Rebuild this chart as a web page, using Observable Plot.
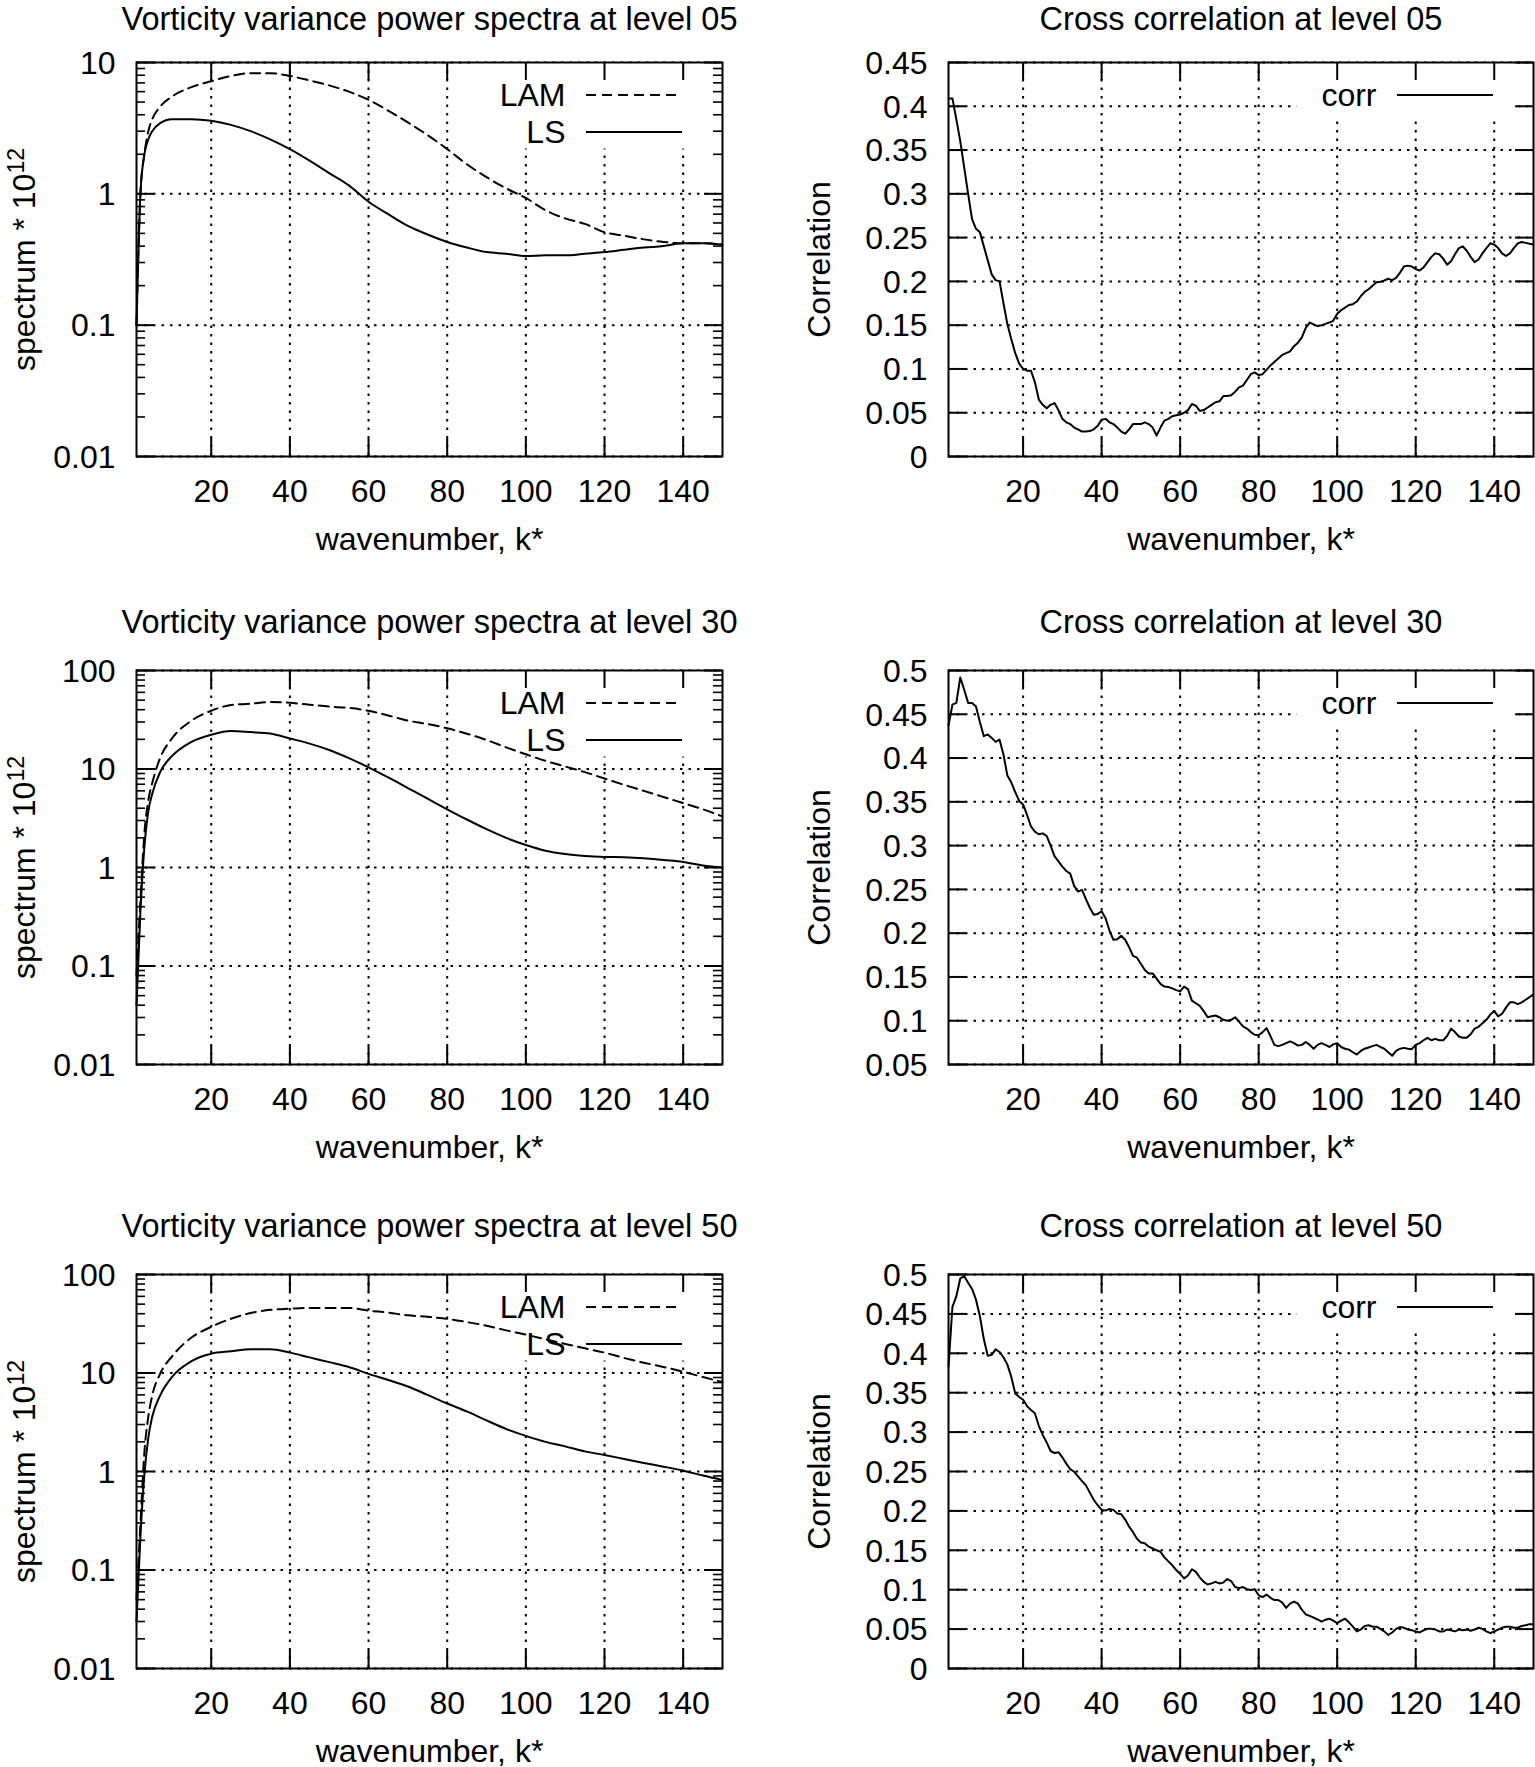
<!DOCTYPE html>
<html>
<head>
<meta charset="utf-8">
<script src="https://cdn.jsdelivr.net/npm/d3@7"></script>
<script src="https://cdn.jsdelivr.net/npm/@observablehq/plot@0.6"></script>
<style>
  body { margin: 0; background: #fff; }
  #root { position: relative; width: 1535px; height: 1767px; overflow: hidden; background: #fff; }
</style>
</head>
<body>
<div id="root"></div>
<script>
// ---------- data ----------
const xTicks = [20, 40, 60, 80, 100, 120, 140];
const specTicks05 = [0.01, 0.1, 1, 10];
const specTicks = [0.01, 0.1, 1, 10, 100];
const corrTicks05 = [0, 0.05, 0.1, 0.15, 0.2, 0.25, 0.3, 0.35, 0.4, 0.45];
const corrTicks30 = [0.05, 0.1, 0.15, 0.2, 0.25, 0.3, 0.35, 0.4, 0.45, 0.5];
const corrTicks50 = [0, 0.05, 0.1, 0.15, 0.2, 0.25, 0.3, 0.35, 0.4, 0.45, 0.5];

const specK = [1, 2, 3, 4, 5, 7, 10, 15, 20, 25, 30, 35, 40, 45, 50, 55, 60, 65, 70, 75, 80, 85, 90, 95, 100, 105, 110, 115, 120, 125, 130, 135, 140, 145, 150];

const lam05 = [0.1, 1.0, 2.0, 3.0, 3.7, 4.6, 5.5, 6.5, 7.2, 7.9, 8.3, 8.3, 7.9, 7.3, 6.7, 6.0, 5.2, 4.3, 3.5, 2.8, 2.19, 1.68, 1.34, 1.1, 0.93, 0.75, 0.65, 0.59, 0.51, 0.48, 0.45, 0.43, 0.42, 0.42, 0.41];
const ls05  = [0.1, 1.0, 2.0, 2.6, 3.0, 3.45, 3.7, 3.7, 3.6, 3.35, 3.0, 2.6, 2.19, 1.79, 1.44, 1.16, 0.87, 0.70, 0.57, 0.49, 0.43, 0.39, 0.36, 0.35, 0.336, 0.34, 0.34, 0.35, 0.36, 0.375, 0.39, 0.40, 0.42, 0.42, 0.41];

const lam30 = [0.08, 0.46, 2.2, 4.8, 7.2, 12.9, 20.4, 31, 39, 44.6, 46, 48, 47, 45, 43, 41.7, 39, 35, 31, 28.6, 25.9, 22.8, 19.7, 16.6, 14.1, 12.1, 10.6, 9.3, 8.0, 6.9, 6.0, 5.2, 4.5, 3.9, 3.3];
const ls30  = [0.04, 0.36, 1.6, 3.7, 5.6, 9.3, 13.5, 18.9, 22.3, 24.3, 23.7, 22.9, 20.4, 18.1, 15.6, 12.9, 10.4, 8.2, 6.4, 5.0, 3.9, 3.07, 2.45, 2.0, 1.69, 1.48, 1.37, 1.31, 1.28, 1.27, 1.24, 1.19, 1.14, 1.05, 1.0];

const lam50 = [0.05, 0.29, 1.55, 3.6, 5.9, 9.8, 14.7, 22.9, 29.4, 35.5, 40.6, 43.8, 44.9, 45.7, 45.7, 45.7, 43, 41, 38.5, 37.2, 35.5, 32.9, 30.2, 27.1, 24.5, 22, 19.7, 17.8, 16.1, 14.2, 12.7, 11.5, 10.3, 9.1, 8.1];
const ls50  = [0.03, 0.22, 0.93, 2.2, 3.6, 5.9, 9.1, 13.2, 15.7, 16.6, 17.4, 17.4, 16.1, 14.4, 12.9, 11.5, 9.8, 8.5, 7.3, 6.0, 4.9, 4.07, 3.3, 2.7, 2.3, 2.0, 1.8, 1.6, 1.47, 1.34, 1.22, 1.12, 1.02, 0.91, 0.82];

// correlation, one value per wavenumber k = 1..150
const corr05 = [
  0.409,0.409,0.385,0.36,0.33,0.30,0.271,0.26,0.256,0.24,
  0.224,0.208,0.2015,0.2,0.175,0.151,0.134,0.118,0.106,0.10,
  0.098,0.098,0.085,0.065,0.059,0.055,0.059,0.061,0.053,0.043,
  0.039,0.037,0.033,0.031,0.0285,0.0285,0.029,0.031,0.035,0.042,
  0.043,0.039,0.037,0.033,0.0285,0.026,0.031,0.037,0.037,0.037,
  0.039,0.037,0.033,0.024,0.033,0.041,0.043,0.046,0.047,0.048,
  0.05,0.053,0.06,0.058,0.052,0.053,0.056,0.059,0.062,0.063,
  0.069,0.069,0.07,0.074,0.079,0.081,0.0875,0.094,0.096,0.093,
  0.094,0.099,0.104,0.108,0.112,0.116,0.118,0.12,0.126,0.13,
  0.136,0.147,0.153,0.151,0.149,0.15,0.1515,0.153,0.155,0.163,
  0.167,0.17,0.173,0.174,0.177,0.183,0.188,0.191,0.195,0.199,
  0.1995,0.201,0.203,0.2015,0.204,0.21,0.217,0.218,0.217,0.214,
  0.2125,0.216,0.222,0.228,0.232,0.231,0.226,0.219,0.223,0.231,
  0.238,0.24,0.235,0.228,0.222,0.225,0.232,0.238,0.2435,0.242,
  0.238,0.232,0.229,0.232,0.238,0.2435,0.245,0.244,0.243,0.242
];
const corr30 = [
  0.437,0.461,0.463,0.492,0.478,0.463,0.463,0.459,0.441,0.425,
  0.427,0.423,0.4185,0.421,0.404,0.38,0.372,0.361,0.351,0.347,
  0.335,0.322,0.316,0.313,0.314,0.311,0.3,0.288,0.282,0.276,
  0.271,0.268,0.254,0.2475,0.2495,0.239,0.229,0.221,0.222,0.225,
  0.217,0.203,0.1925,0.193,0.197,0.1925,0.184,0.174,0.172,0.165,
  0.158,0.154,0.154,0.148,0.142,0.139,0.1385,0.137,0.135,0.1335,
  0.139,0.136,0.123,0.12,0.117,0.111,0.104,0.105,0.106,0.104,
  0.101,0.1,0.101,0.104,0.099,0.0935,0.091,0.087,0.084,0.0834,
  0.087,0.0915,0.0825,0.0724,0.071,0.0724,0.0744,0.0765,0.0744,0.0716,
  0.0724,0.0757,0.0724,0.068,0.0724,0.0744,0.0724,0.07,0.073,0.0744,
  0.07,0.068,0.067,0.064,0.0614,0.0655,0.068,0.0695,0.071,0.0724,
  0.07,0.068,0.064,0.06,0.0655,0.068,0.069,0.068,0.0675,0.0724,
  0.0744,0.0777,0.0805,0.0777,0.0793,0.0777,0.0777,0.0825,0.091,0.087,
  0.082,0.0805,0.0805,0.0846,0.091,0.093,0.097,0.101,0.107,0.111,
  0.105,0.108,0.115,0.121,0.121,0.119,0.121,0.124,0.127,0.13
];
const corr50 = [
  0.383,0.459,0.4725,0.495,0.4977,0.4895,0.4817,0.468,0.447,0.4177,
  0.397,0.398,0.405,0.4017,0.395,0.3856,0.37,0.349,0.3445,0.341,
  0.333,0.328,0.324,0.308,0.2964,0.287,0.276,0.2735,0.2745,0.268,
  0.26,0.253,0.2497,0.2438,0.2379,0.2324,0.2232,0.214,0.2072,0.2013,
  0.2004,0.2026,0.2013,0.1967,0.1958,0.189,0.18,0.173,0.1647,0.16,
  0.159,0.1546,0.1523,0.15,0.148,0.141,0.136,0.131,0.125,0.12,
  0.1144,0.118,0.126,0.1226,0.1157,0.11,0.1066,0.108,0.11,0.108,
  0.109,0.1135,0.111,0.1034,0.102,0.1034,0.1006,0.0997,0.1006,0.0929,
  0.0906,0.0938,0.0897,0.0869,0.0869,0.0837,0.0769,0.0823,0.085,0.0823,
  0.0746,0.0686,0.0668,0.0645,0.0622,0.0595,0.0618,0.0631,0.0608,0.0576,
  0.0608,0.0631,0.0586,0.0531,0.0471,0.0494,0.054,0.0549,0.0531,0.0531,
  0.0503,0.0471,0.0425,0.0457,0.0503,0.0526,0.0517,0.0494,0.0485,0.0471,
  0.0457,0.0485,0.0503,0.0503,0.0494,0.0471,0.0471,0.0494,0.0485,0.0471,
  0.0494,0.0485,0.0494,0.048,0.0494,0.0517,0.0503,0.0471,0.0448,0.0471,
  0.0494,0.0517,0.0531,0.0531,0.0517,0.0517,0.054,0.0549,0.0563,0.0563
];

const levels = ["05", "30", "50"];
// ---------- layout ----------
const FONT = "'Liberation Sans', Arial, Helvetica, sans-serif";
const FS = 32;
const frameH = 394;
const mTop = 62, mBottom = 98;
const rowFrameTop = [62, 670, 1274];
const titleDy = [-32.5, -38, -38];
const legendStep = 37;
const leftCol = {left: 0, width: 760, mL: 136, mR: 38};
const rightCol = {left: 770, width: 765, mL: 178, mR: 2};

const root = document.getElementById("root");
const gridStyle = {stroke: "black", strokeWidth: 2, strokeDasharray: "2.5,6"};

function fmt(d) { return String(d); }

function minorLog(ticks) {
  const out = [];
  for (let i = 0; i < ticks.length - 1; i++) for (let m = 2; m <= 9; m++) out.push(+(ticks[i] * m).toPrecision(3));
  return out;
}

function build(col, row, cfg) {
  const frameW = col.width - col.mL - col.mR;
  const height = mTop + frameH + mBottom;
  const marks = [
    Plot.ruleX(xTicks, {x: d => d, ...gridStyle}),
    Plot.ruleY(cfg.yTicks, {y: d => d, ...gridStyle}),
    Plot.frame({fill: "white", stroke: "none", insetLeft: frameW - cfg.boxW, insetRight: cfg.boxR, insetBottom: frameH - cfg.boxH}),
    ...cfg.series.map(s => Plot.line(s.k.map((k, i) => ({k, v: s.v[i]})), {
      x: "k", y: "v", stroke: "black", strokeWidth: 2, curve: s.curve || "linear",
      strokeDasharray: s.dash || null
    })),
    // inward major ticks (mirrored)
    Plot.ruleX(xTicks, {x: d => d, insetTop: frameH - 18, stroke: "black", strokeWidth: 2}),
    Plot.ruleX(xTicks, {x: d => d, insetBottom: frameH - 18, stroke: "black", strokeWidth: 2}),
    Plot.ruleY(cfg.yTicks, {y: d => d, insetRight: frameW - 18, stroke: "black", strokeWidth: 2}),
    Plot.ruleY(cfg.yTicks, {y: d => d, insetLeft: frameW - 18, stroke: "black", strokeWidth: 2}),
    ...(cfg.yMinor ? [
      Plot.ruleY(cfg.yMinor, {y: d => d, insetRight: frameW - 9, stroke: "black", strokeWidth: 1.6}),
      Plot.ruleY(cfg.yMinor, {y: d => d, insetLeft: frameW - 9, stroke: "black", strokeWidth: 1.6})
    ] : []),
    Plot.frame({stroke: "black", strokeWidth: 2}),
    // tick labels
    Plot.text(xTicks, {x: d => d, frameAnchor: "bottom", dy: 45, lineAnchor: "bottom", text: fmt, fontSize: FS}),
    Plot.text(cfg.yTicks, {y: d => d, frameAnchor: "left", dx: -21, dy: 1, textAnchor: "end", lineAnchor: "middle", text: fmt, fontSize: FS}),
    // axis labels and title
    Plot.text(["wavenumber, k*"], {frameAnchor: "bottom", dy: 93, lineAnchor: "bottom", text: d => d, fontSize: FS}),
    Plot.text([cfg.ylabel], {frameAnchor: "left", dx: cfg.ylabelDx, rotate: -90, textAnchor: "middle", lineAnchor: "bottom", text: d => d, fontSize: FS}),
    Plot.text([cfg.title], {frameAnchor: "top", dy: titleDy[row], lineAnchor: "bottom", text: d => d, fontSize: 32.5}),
    // legend labels
    ...cfg.series.map((s, i) => Plot.text([s.name], {frameAnchor: "top-right", dx: -157, dy: 43 + legendStep * i, textAnchor: "end", lineAnchor: "bottom", text: d => d, fontSize: FS}))
  ];
  const svg = Plot.plot({
    width: col.width, height,
    marginLeft: col.mL, marginRight: col.mR, marginTop: mTop, marginBottom: mBottom,
    x: {domain: [1, 150], axis: null},
    y: {type: cfg.yType, domain: cfg.yDomain, axis: null},
    style: {fontFamily: FONT, fontSize: FS + "px", background: "white", color: "black", overflow: "visible"},
    marks
  });
  // legend key samples (pixel layout of the key box)
  const sel = d3.select(svg);
  const frameRight = col.width - col.mR;
  cfg.series.forEach((s, i) => {
    sel.append("line")
      .attr("x1", frameRight - 40 - 96).attr("x2", frameRight - 40)
      .attr("y1", mTop + 33 + legendStep * i).attr("y2", mTop + 33 + legendStep * i)
      .attr("stroke", "black").attr("stroke-width", 2)
      .attr("stroke-dasharray", s.dash || null);
  });
  // superscript exponent in y label
  sel.selectAll("text").each(function () {
    if (this.textContent === cfg.ylabel && cfg.sup) {
      const t = d3.select(this);
      t.text(cfg.ylabel.slice(0, cfg.ylabel.length - cfg.sup.length));
      t.append("tspan").attr("dy", -11).attr("font-size", 23).text(cfg.sup);
    }
  });
  svg.style.position = "absolute";
  svg.style.left = col.left + "px";
  svg.style.top = (rowFrameTop[row] - mTop) + "px";
  root.appendChild(svg);
}

const specData = [[lam05, ls05], [lam30, ls30], [lam50, ls50]];
const corrData = [corr05, corr30, corr50];
const corrTicks = [corrTicks05, corrTicks30, corrTicks50];
const corrDomains = [[0, 0.45], [0.05, 0.5], [0, 0.5]];

levels.forEach((lev, r) => {
  const yt = r === 0 ? specTicks05 : specTicks;
  build(leftCol, r, {
    title: "Vorticity variance power spectra at level " + lev,
    ylabel: "spectrum * 1012", sup: "12", ylabelDx: -102,
    yType: "log", yDomain: [yt[0], yt[yt.length - 1]], yTicks: yt, yMinor: minorLog(yt),
    boxW: 249, boxR: 12, boxH: 86,
    series: [
      {name: "LAM", k: specK, v: specData[r][0], dash: "10,6", curve: "monotone-x"},
      {name: "LS", k: specK, v: specData[r][1], curve: "monotone-x"}
    ]
  });
  const cv = corrData[r];
  build(rightCol, r, {
    title: "Cross correlation at level " + lev,
    ylabel: "Correlation", ylabelDx: -119,
    yType: "linear", yDomain: corrDomains[r], yTicks: corrTicks[r],
    boxW: 237, boxR: 18, boxH: 54,
    series: [{name: "corr", k: cv.map((_, i) => i + 1), v: cv}]
  });
});
</script>
</body>
</html>
